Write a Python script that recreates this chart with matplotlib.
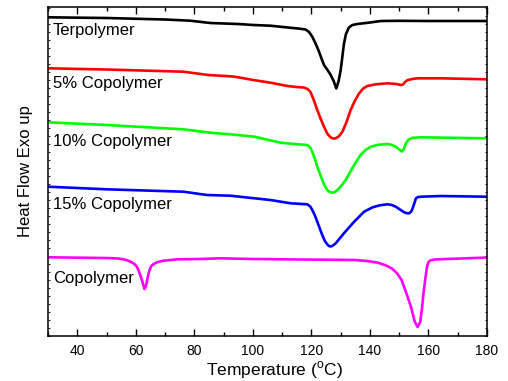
import matplotlib
matplotlib.use("Agg")
import matplotlib.pyplot as plt
from matplotlib.ticker import MultipleLocator

plt.rcParams['font.family'] = ['Liberation Sans', 'DejaVu Sans']
plt.rcParams['mathtext.fontset'] = 'custom'
plt.rcParams['mathtext.rm'] = 'Liberation Sans'

# DSC traces, heat flow in arbitrary units (exo up), offset per sample
terp_T = [30, 50, 70, 78.6, 85.5, 95, 100.2, 106, 112, 116, 118, 119.2, 120.3,
          121.5, 122.6, 123.5, 124.3, 125.5, 126.6, 127.6, 128.5, 129.3, 130,
          130.6, 131.1, 131.8, 132.8, 134, 135.7, 140, 143.7, 150, 160, 180]
terp_hf = [318.7, 318, 316.5, 315.3, 313, 312, 311, 310.3, 308.5, 307.3, 306.5,
           304, 299.3, 292, 284.3, 277, 271, 266, 261, 255, 247.5, 255, 266,
           280, 292, 302, 308.5, 311, 312, 313.5, 315, 315.2, 315, 315]

cop5_T = [30, 50, 76.2, 84.8, 93.4, 100.2, 106, 111.8, 115, 117.4, 118.7, 119.7,
          120.8, 122, 123.2, 124.3, 125.5, 126.6, 127.5, 128.3, 129.5, 130.6,
          132, 133.4, 134.8, 136.3, 137.7, 139.1, 142, 146, 149, 150.5, 151.3,
          152, 152.8, 154.5, 156.3, 164.2, 180]
cop5_hf = [267.7, 266.5, 264.3, 261, 259.5, 256, 253.3, 250, 249, 248.5, 247,
           244, 236, 226, 217, 209.3, 202, 198.5, 197.5, 197.7, 200, 204.3,
           214, 226, 235, 242.7, 247.5, 250, 251.7, 252.7, 252, 251, 251.5,
           254, 255.8, 257, 257.7, 257.7, 256.7]

cop10_T = [30, 50.1, 76.3, 85.5, 92.3, 100.5, 109.5, 115, 118.6, 119.6, 120.3,
           121.2, 122, 123.7, 124.5, 125.4, 126.3, 127.2, 128.1, 128.9, 130.3,
           131.7, 134.6, 136.8, 138.5, 140.3, 143, 146, 147.6, 148.8, 150,
           150.9, 151.6, 152.3, 153.2, 154.5, 157.4, 180]
cop10_hf = [213.7, 211, 206.7, 203.3, 201.7, 199.3, 193.3, 191.8, 191, 188.5,
            184.3, 177, 169.3, 156, 150.5, 146, 144, 143.3, 144, 146, 150.5,
            156, 171, 181, 186, 189.3, 191.3, 192, 191, 189.3, 186.5, 184.5,
            187, 192.7, 196.5, 198.2, 198.7, 197.7]

cop15_T = [30, 50.1, 76.3, 84.3, 92.3, 106, 112.9, 118.6, 119.6, 120.3, 121.2,
           122, 123.7, 124.5, 125.4, 126, 126.6, 127.4, 128.3, 131.1, 134.6,
           138, 140.9, 143.5, 146, 147.5, 148.8, 151.7, 152.6, 153.4, 154.1,
           154.6, 155.2, 155.7, 156.5, 157.4, 164.2, 180]
cop15_hf = [149.3, 146.7, 144.3, 141, 140.3, 136, 132.7, 131.7, 129.5, 126,
            120.5, 114.3, 101, 95.5, 91.7, 90, 89.5, 90.5, 92.7, 102.7, 114.3,
            124.3, 128.7, 130.8, 131.7, 131, 129.3, 123.7, 122.8, 122.7, 124.5,
            127.7, 133, 137.7, 139, 139.3, 140, 139.3]

copo_T = [30, 50.1, 54, 56.5, 58, 59.2, 60.2, 60.9, 61.5, 62.1, 62.6, 63, 63.4,
          63.8, 64.2, 64.7, 65.3, 66.1, 67.5, 69.5, 74.1, 82.1, 88.9, 100.2,
          116.3, 128, 134.8, 139, 142.8, 145.5, 147.4, 149.2, 150.8, 152.3,
          154, 155.3, 156.3, 157.2, 157.8, 158.3, 158.9, 159.5, 160, 160.6,
          162, 166.5, 180]
copo_hf = [78.7, 78, 77.5, 76.2, 74.5, 72.7, 70, 66, 61, 56, 50.5, 47, 49.5,
           54.3, 60.5, 66, 70, 72, 74, 75.3, 76.7, 77, 77.7, 77, 76.5, 76.2,
           76, 75, 73.3, 70.5, 67.7, 63, 56, 44, 29.3, 14.3, 9, 14.3, 28, 43,
           57, 69.3, 74, 75.5, 76.5, 77, 78.5]

names = ['Terpolymer', '5% Copolymer', '10% Copolymer', '15% Copolymer', 'Copolymer']
temps = [terp_T, cop5_T, cop10_T, cop15_T, copo_T]
flows = [terp_hf, cop5_hf, cop10_hf, cop15_hf, copo_hf]
colors = ['black', '#ff0000', '#00ff00', '#0000ff', '#ff00ff']
label_y = [306, 253, 194.3, 132, 57.7]

fig = plt.figure(figsize=(5.08, 3.81), dpi=100)
ax = fig.add_axes([0.0945, 0.1181, 0.8642, 0.8635])

for T, hf, c in zip(temps, flows, colors):
    ax.plot(T, hf, color=c, linewidth=1.9, solid_joinstyle='round')

for name, y in zip(names, label_y):
    ax.text(31.6, y, name, fontsize=12, va='center', ha='left')

ax.set_xlim(30, 180)
ax.set_ylim(0, 329)
ax.xaxis.set_major_locator(MultipleLocator(20))
ax.xaxis.set_minor_locator(MultipleLocator(10))
ax.yaxis.set_major_locator(MultipleLocator(40))
ax.yaxis.set_minor_locator(MultipleLocator(8))
ax.tick_params(axis='x', which='major', direction='in', length=5, width=1,
               top=True, labelsize=10, pad=6)
ax.tick_params(axis='x', which='minor', direction='in', length=3, width=1, top=True)
ax.tick_params(axis='y', which='both', direction='in', length=1.5, width=0.6,
               right=True, labelleft=False)
for s in ax.spines.values():
    s.set_linewidth(1.1)

ax.set_xlabel(r'Temperature ($^{\rm o}$C)', fontsize=12.5, labelpad=1, x=0.516)
ax.set_ylabel('Heat Flow Exo up', fontsize=12, labelpad=11)

fig.savefig('out.png', dpi=100)
